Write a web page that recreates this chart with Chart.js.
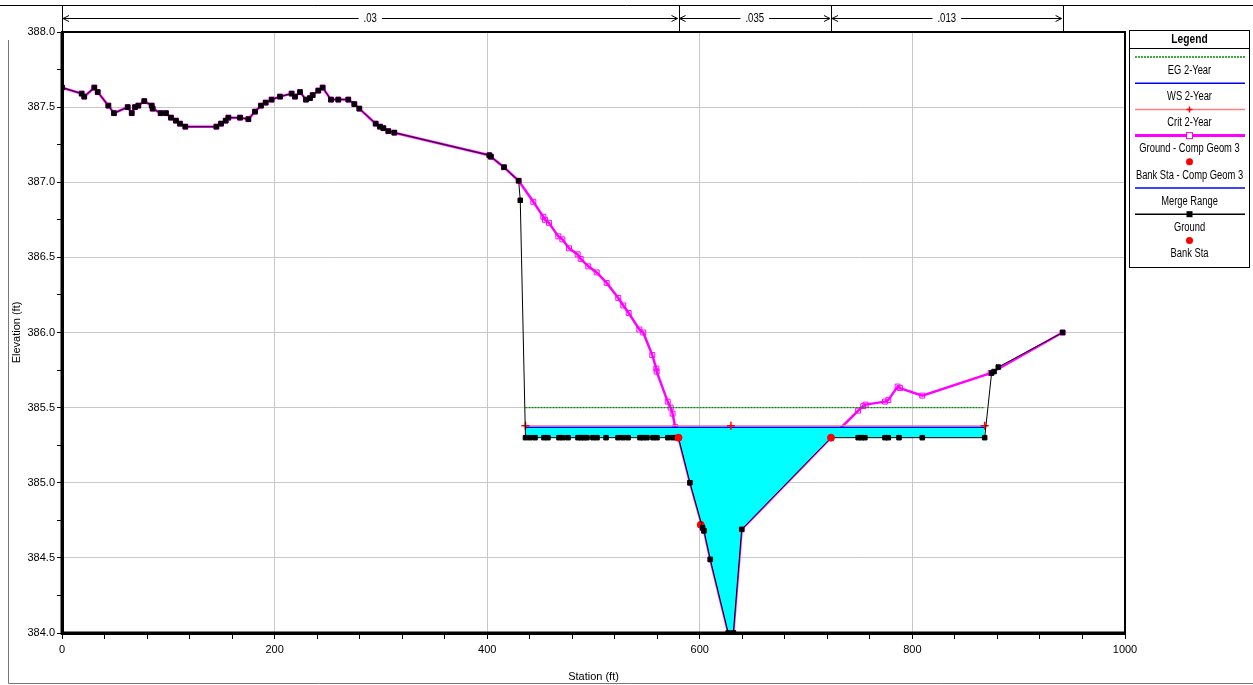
<!DOCTYPE html>
<html>
<head>
<meta charset="utf-8">
<script src="https://cdn.jsdelivr.net/npm/chart.js@4.4.0/dist/chart.umd.min.js"></script>
<style>
  body { margin: 0; background: #fff; }
  #wrap { position: relative; width: 1253px; height: 685px; }
</style>
</head>
<body>
<div id="wrap"><canvas id="xsChart"></canvas></div>
<script>
const FONT = "'Liberation Sans Narrow', 'Arial Narrow', 'Liberation Sans', sans-serif";

// left overbank, same for both ground lines
const overbankSta = [0, 18.5, 20.9, 30.4, 33.6, 43.6, 48.9, 61.8, 65.6, 68.7, 71.8, 77.4, 84.4, 85.3, 92.8, 97.8, 102.5, 107.2, 111, 116,
	145.2, 149.6, 154, 156.5, 167.5, 175.3, 181.6, 187.2, 191.6, 197.2, 205.1, 216, 219.2, 223.9, 229.5, 233.3, 235.8, 241.1, 245.2, 253,
	259.9, 269.3, 275, 279.7, 295.1, 299.2, 302.3, 307, 312.6, 402, 403.5, 415.8, 429.6];
const overbankElev = [387.63, 387.59, 387.57, 387.63, 387.60, 387.51, 387.46, 387.50, 387.46, 387.50, 387.51, 387.54, 387.51, 387.49, 387.46, 387.46, 387.43, 387.41, 387.39, 387.37,
	387.37, 387.39, 387.41, 387.43, 387.43, 387.42, 387.47, 387.51, 387.53, 387.55, 387.57, 387.59, 387.57, 387.60, 387.55, 387.56, 387.58, 387.61, 387.63, 387.55,
	387.55, 387.55, 387.52, 387.49, 387.39, 387.37, 387.36, 387.34, 387.33, 387.18, 387.17, 387.10, 387.01];

// main channel, bank to bank
const channelSta = [580, 590.8, 602.7, 604, 609.9, 626.8, 631.5, 639.4, 723.4];
const channelElev = [385.30, 385.00, 384.70, 384.68, 384.49, 384.00, 384.00, 384.69, 385.30];

// Comp Geom 3 only
const geomLeftSta = [443.4, 452.8, 454.4, 458.1, 466.9, 470.7, 477, 485.1, 487.9, 495.1, 503, 512.4, 523.3, 528, 533.1, 543.1, 546.8, 555.3, 559.1, 559.4, 569.8, 572.6, 574.4, 576.9];
const geomLeftElev = [386.87, 386.77, 386.75, 386.73, 386.64, 386.62, 386.56, 386.52, 386.49, 386.44, 386.40, 386.33, 386.23, 386.18, 386.13, 386.02, 386.00, 385.85, 385.76, 385.74, 385.54, 385.50, 385.46, 385.37];
const geomRightSta = [749, 753.7, 756, 774.2, 777.3, 786.1, 788.3, 809.3, 873.6, 941.3];
const geomRightElev = [385.48, 385.51, 385.52, 385.54, 385.55, 385.64, 385.63, 385.58, 385.73, 386.00];
const geomBankSta = [600.9];
const geomBankElev = [384.72];

// merged ground only
const groundLeftSta = [431.1, 436, 440.3, 445, 453.4, 457.1, 467.5, 471.2, 476, 485.4, 488.2, 491.1, 493.9, 499.5, 503.3, 511.8, 523.1, 527.8, 532.5, 543.7, 546.6, 550.3, 556, 559.7, 570, 574.8, 578.6];
const groundLeftElev = [386.88, 385.30, 385.30, 385.30, 385.30, 385.30, 385.30, 385.30, 385.30, 385.30, 385.30, 385.30, 385.30, 385.30, 385.30, 385.30, 385.30, 385.30, 385.30, 385.30, 385.30, 385.30, 385.30, 385.30, 385.30, 385.30, 385.30];
const groundRightSta = [749, 752.2, 755.3, 774.2, 777.3, 787.4, 809.3, 868, 874.5, 876.8, 880.8, 941.3];
const groundRightElev = [385.30, 385.30, 385.30, 385.30, 385.30, 385.30, 385.30, 385.30, 385.73, 385.74, 385.77, 386.00];
const bankSta = [580, 723.4];
const bankElev = [385.30, 385.30];

// 2-Year profile
const wsSta = [436, 868];
const wsElev = 385.37;
const critSta = [436, 629.3, 868];
const critElev = 385.38;
const egElev = 385.50;

// Manning's n
const nSta = [0, 580, 723.4, 941.3];
const nValues = [".03", ".035", ".013"];

const legendLabels = ["EG 2-Year", "WS 2-Year", "Crit 2-Year", "Ground - Comp Geom 3", "Bank Sta - Comp Geom 3", "Merge Range", "Ground", "Bank Sta"];

function toPoints(sta, elev) {
	return sta.map((s, i) => ({ x: s, y: Array.isArray(elev) ? elev[i] : elev }));
}

const groundPts = toPoints(overbankSta, overbankElev)
	.concat(toPoints(groundLeftSta, groundLeftElev))
	.concat(toPoints(channelSta, channelElev))
	.concat(toPoints(groundRightSta, groundRightElev));
const geomPts = toPoints(overbankSta, overbankElev)
	.concat(toPoints(geomLeftSta, geomLeftElev))
	.concat(toPoints(channelSta, channelElev))
	.concat(toPoints(geomRightSta, geomRightElev));
// water area: ground under the water surface
const waterPts = groundPts.filter((p) => p.x >= wsSta[0] && p.x <= wsSta[1]);

// narrow text: no condensed font installed, so squeeze it
function narrowText(ctx, text, x, y, sx) {
	ctx.save();
	ctx.translate(x, y);
	ctx.scale(sx, 1);
	ctx.fillText(text, 0, 0);
	ctx.restore();
}

// frame, plot border, n-value bar and legend
const hecPlugin = {
	id: "hec",
	beforeDraw(chart) {
		const ctx = chart.ctx;
		ctx.save();
		ctx.fillStyle = "#fff";
		ctx.fillRect(0, 0, chart.width, chart.height);
		ctx.restore();
	},
	afterDraw(chart) {
		const ctx = chart.ctx;
		const a = chart.chartArea;
		const xs = chart.scales.x;
		ctx.save();

		// outer frame
		ctx.strokeStyle = "#777";
		ctx.lineWidth = 1;
		ctx.beginPath();
		ctx.moveTo(8.5, 40);
		ctx.lineTo(8.5, 683.5);
		ctx.lineTo(chart.width, 683.5);
		ctx.stroke();

		// plot border
		ctx.strokeStyle = "#000";
		ctx.lineWidth = 2;
		ctx.strokeRect(a.left, a.top, a.right - a.left, a.bottom - a.top);
		ctx.lineWidth = 3;
		ctx.beginPath();
		ctx.moveTo(a.left, a.top);
		ctx.lineTo(a.left, a.bottom);
		ctx.lineTo(a.right, a.bottom);
		ctx.stroke();

		// n-value bar
		const top = 5.5, mid = 18.5;
		ctx.lineWidth = 1;
		ctx.beginPath();
		ctx.moveTo(0, top);
		ctx.lineTo(chart.width, top);
		nSta.forEach((s) => {
			const px = Math.round(xs.getPixelForValue(s)) + 0.5;
			ctx.moveTo(px, top);
			ctx.lineTo(px, a.top);
		});
		ctx.stroke();
		ctx.font = "12px " + FONT;
		ctx.textAlign = "center";
		ctx.textBaseline = "middle";
		for (let i = 0; i < nValues.length; i++) {
			const x1 = xs.getPixelForValue(nSta[i]) + 1;
			const x2 = xs.getPixelForValue(nSta[i + 1]) - 1;
			const cx = (x1 + x2) / 2;
			const tw = ctx.measureText(nValues[i]).width * 0.8 / 2 + 5;
			ctx.beginPath();
			ctx.moveTo(x1, mid);
			ctx.lineTo(cx - tw, mid);
			ctx.moveTo(cx + tw, mid);
			ctx.lineTo(x2, mid);
			// arrow heads
			ctx.moveTo(x1 + 6, mid - 3);
			ctx.lineTo(x1, mid);
			ctx.lineTo(x1 + 6, mid + 3);
			ctx.moveTo(x2 - 6, mid - 3);
			ctx.lineTo(x2, mid);
			ctx.lineTo(x2 - 6, mid + 3);
			ctx.stroke();
			ctx.fillStyle = "#000";
			narrowText(ctx, nValues[i], cx, mid, 0.8);
		}

		// legend
		const lx = 1129.5, ly = 30.5, lw = 120, lh = 237;
		const cx = lx + lw / 2;
		ctx.strokeStyle = "#000";
		ctx.lineWidth = 1;
		ctx.strokeRect(lx, ly, lw, lh);
		ctx.beginPath();
		ctx.moveTo(lx, 48.5);
		ctx.lineTo(lx + lw, 48.5);
		ctx.stroke();
		ctx.font = "bold 12px " + FONT;
		narrowText(ctx, "Legend", cx, 40, 0.85);
		ctx.font = "12px " + FONT;
		const styles = [
			{ line: "#009000", dash: [2, 1] },
			{ line: "#0000ff" },
			{ line: "#ff8080", mark: "cross" },
			{ line: "#ff00ff", width: 3, mark: "hollow" },
			{ mark: "dot" },
			{ line: "#0000ff" },
			{ line: "#000", mark: "square" },
			{ mark: "dot" },
		];
		legendLabels.forEach((label, i) => {
			const y = 57 + i * 26.2;
			const st = styles[i];
			if (st.line) {
				ctx.save();
				ctx.strokeStyle = st.line;
				ctx.lineWidth = st.width || 1.5;
				ctx.setLineDash(st.dash || []);
				ctx.beginPath();
				ctx.moveTo(1135, y);
				ctx.lineTo(1245, y);
				ctx.stroke();
				ctx.restore();
			}
			if (st.mark === "cross") {
				ctx.strokeStyle = "#ff0000";
				ctx.lineWidth = 1.5;
				ctx.beginPath();
				ctx.moveTo(cx - 3, y);
				ctx.lineTo(cx + 3, y);
				ctx.moveTo(cx, y - 3);
				ctx.lineTo(cx, y + 3);
				ctx.stroke();
			} else if (st.mark === "hollow") {
				ctx.fillStyle = "#fff";
				ctx.fillRect(cx - 3, y - 3, 6, 6);
				ctx.strokeStyle = "#ff00ff";
				ctx.lineWidth = 1;
				ctx.strokeRect(cx - 3, y - 3, 6, 6);
			} else if (st.mark === "square") {
				ctx.fillStyle = "#000";
				ctx.fillRect(cx - 3, y - 3, 6, 6);
			} else if (st.mark === "dot") {
				ctx.fillStyle = "#ff0000";
				ctx.beginPath();
				ctx.arc(cx, y, 3.5, 0, Math.PI * 2);
				ctx.fill();
			}
			ctx.fillStyle = "#000";
			narrowText(ctx, label, cx, y + 13.5, 0.78);
		});
		ctx.restore();
	},
};

const ctx = document.getElementById("xsChart").getContext("2d");
const chart = new Chart(ctx, {
	type: "line",
	data: {
		datasets: [
			{
				label: "Bank Sta",
				data: toPoints(bankSta, bankElev),
				showLine: false,
				pointRadius: 3.5,
				pointBackgroundColor: "#ff0000",
				pointBorderColor: "#ff0000",
				order: 0,
			},
			{
				label: "Ground",
				data: groundPts,
				borderColor: "#000",
				borderWidth: 1,
				pointStyle: "rect",
				pointRadius: 3.2,
				pointBackgroundColor: "#000",
				pointBorderColor: "#000",
				pointBorderWidth: 1,
				order: 1,
			},
			{
				label: "Bank Sta - Comp Geom 3",
				data: toPoints(geomBankSta, geomBankElev),
				showLine: false,
				pointRadius: 3.5,
				pointBackgroundColor: "#ff0000",
				pointBorderColor: "#ff0000",
				order: 2,
			},
			{
				label: "Crit 2-Year",
				data: toPoints(critSta, critElev),
				borderColor: "#ff8080",
				borderWidth: 1,
				pointStyle: "cross",
				pointRadius: 4,
				pointBorderColor: "#ff0000",
				pointBorderWidth: 1.5,
				order: 3,
			},
			{
				label: "WS 2-Year",
				data: toPoints(wsSta, wsElev),
				borderColor: "#0000ff",
				borderWidth: 1.5,
				pointRadius: 0,
				order: 4,
			},
			{
				label: "EG 2-Year",
				data: toPoints(wsSta, egElev),
				borderColor: "#009000",
				borderWidth: 1.2,
				borderDash: [2, 1],
				pointRadius: 0,
				order: 5,
			},
			{
				label: "water",
				data: waterPts,
				borderWidth: 0,
				borderColor: "rgba(0,0,0,0)",
				backgroundColor: "#00ffff",
				fill: { value: wsElev },
				pointRadius: 0,
				order: 6,
			},
			{
				label: "Ground - Comp Geom 3",
				data: geomPts,
				borderColor: "#ff00ff",
				borderWidth: 2.5,
				pointStyle: "rect",
				pointRadius: 3.5,
				pointBackgroundColor: "rgba(255,255,255,0)",
				pointBorderColor: "#ff00ff",
				pointBorderWidth: 1,
				order: 7,
			},
		],
	},
	options: {
		responsive: true,
		maintainAspectRatio: false,
		animation: false,
		events: [],
		layout: { padding: { top: 32, right: 128, left: 0, bottom: 0 } },
		plugins: {
			legend: { display: false },
			tooltip: { enabled: false },
		},
		scales: {
			x: {
				type: "linear",
				min: 0,
				max: 1000,
				afterFit: (s) => { s.height = 52; },
				ticks: {
					stepSize: 40,
					autoSkip: false,
					maxRotation: 0,
					color: "#000",
					font: { family: FONT, size: 11 },
					padding: 4,
					callback: (v) => (v % 200 === 0 ? v : ""),
				},
				grid: {
					color: (c) => (c.tick && c.tick.value % 200 === 0 ? "#c8c8c8" : "rgba(0,0,0,0)"),
					tickColor: "#000",
					tickLength: 6,
				},
				border: { color: "#000", width: 3 },
				title: {
					display: true,
					text: "Station (ft)",
					color: "#000",
					font: { family: FONT, size: 11 },
					padding: { top: 2, bottom: 1 },
				},
			},
			y: {
				type: "linear",
				min: 384,
				max: 388,
				afterFit: (s) => { s.width = 62; },
				ticks: {
					stepSize: 0.25,
					autoSkip: false,
					color: "#000",
					font: { family: FONT, size: 11 },
					padding: 2,
					callback: (v) => (Math.abs(v * 2 - Math.round(v * 2)) < 1e-6 ? v.toFixed(1) : ""),
				},
				grid: {
					color: (c) => (c.tick && Math.abs(c.tick.value * 2 - Math.round(c.tick.value * 2)) < 1e-6 ? "#c8c8c8" : "rgba(0,0,0,0)"),
					tickColor: "#000",
					tickLength: 5,
				},
				border: { color: "#000", width: 3 },
				title: {
					display: true,
					text: "Elevation (ft)",
					color: "#000",
					font: { family: FONT, size: 11 },
					padding: { top: 10, bottom: 0 },
				},
			},
		},
	},
	plugins: [hecPlugin],
});
</script>
</body>
</html>
